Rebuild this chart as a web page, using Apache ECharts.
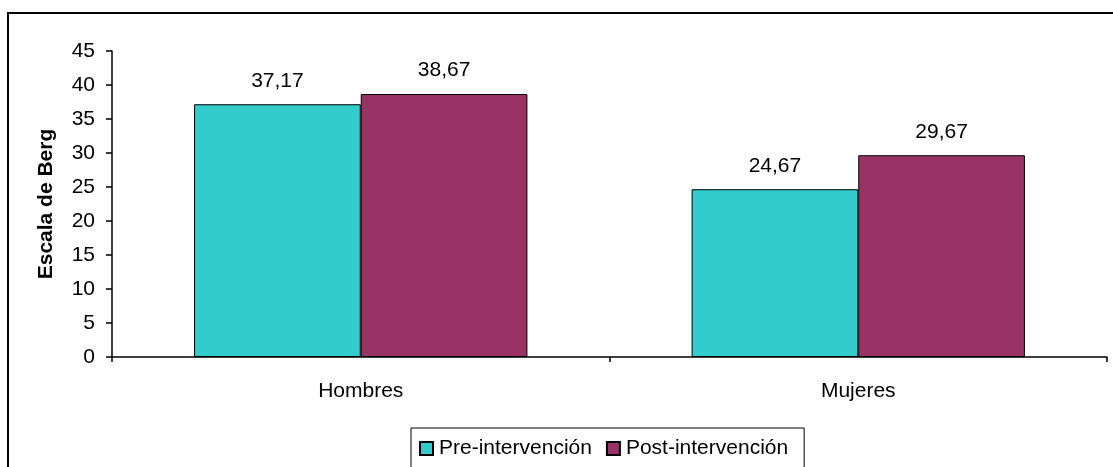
<!DOCTYPE html>
<html>
<head>
<meta charset="utf-8">
<script src="https://cdn.jsdelivr.net/npm/echarts@6/dist/echarts.min.js"></script>
<style>
  html, body { margin: 0; padding: 0; background: #fff; }
  #chart { width: 1113px; height: 467px; }
</style>
</head>
<body>
<div id="chart"></div>
<script>
// Puntuaciones medias en la Escala de Berg por sexo
const categories = ['Hombres', 'Mujeres'];
const preIntervencion = [37.17, 24.67];
const postIntervencion = [38.67, 29.67];
const seriesNames = ['Pre-intervención', 'Post-intervención'];
const yTicks = { min: 0, max: 45, interval: 5 };

const FONT = '"Liberation Sans", Arial, sans-serif';
const fmtComa = p => p.value.toFixed(2).replace('.', ',');

const chart = echarts.init(document.getElementById('chart'), null, { renderer: 'canvas' });

const labelCfg = {
  show: true,
  position: 'top',
  distance: 13,
  color: '#000',
  fontFamily: FONT,
  fontSize: 21,
  formatter: fmtComa
};

chart.setOption({
  animation: false,
  backgroundColor: '#fff',
  graphic: [{
    type: 'rect',
    shape: { x: 8, y: 13, width: 1130, height: 480 },
    style: { fill: 'none', stroke: '#000', lineWidth: 2 },
    silent: true,
    z: -1
  }],
  grid: { left: 112, right: 6, top: 51, bottom: 110, containLabel: false },
  legend: {
    data: seriesNames,
    left: 411,
    top: 428,
    padding: [10, 16, 10, 8],
    itemGap: 14,
    itemWidth: 13,
    itemHeight: 13,
    icon: 'rect',
    borderColor: '#000',
    borderWidth: 1,
    borderRadius: 0,
    textStyle: { color: '#000', fontFamily: FONT, fontSize: 21, padding: [0, 0, 0, 1] }
  },
  xAxis: {
    type: 'category',
    data: categories,
    axisLine: { lineStyle: { color: '#000', width: 1.5 } },
    axisTick: { show: true, length: 5, lineStyle: { color: '#000', width: 1.5 } },
    axisLabel: { color: '#000', fontFamily: FONT, fontSize: 21, margin: 24 },
    splitLine: { show: false }
  },
  yAxis: {
    type: 'value',
    min: yTicks.min,
    max: yTicks.max,
    interval: yTicks.interval,
    name: 'Escala de Berg',
    nameLocation: 'middle',
    nameGap: 55,
    nameTextStyle: { color: '#000', fontFamily: FONT, fontSize: 21, fontWeight: 'bold' },
    axisLine: { show: true, lineStyle: { color: '#000', width: 1.5 } },
    axisTick: { show: true, length: 6, lineStyle: { color: '#000', width: 1.5 } },
    axisLabel: { color: '#000', fontFamily: FONT, fontSize: 21, margin: 17 },
    splitLine: { show: false }
  },
  series: [
    {
      name: seriesNames[0],
      type: 'bar',
      data: preIntervencion,
      barGap: '0%',
      barCategoryGap: '33%',
      itemStyle: { color: '#33CCCC', borderColor: '#000', borderWidth: 1 },
      label: labelCfg
    },
    {
      name: seriesNames[1],
      type: 'bar',
      data: postIntervencion,
      barGap: '0%',
      barCategoryGap: '33%',
      itemStyle: { color: '#993366', borderColor: '#000', borderWidth: 1 },
      label: labelCfg
    }
  ]
});
</script>
</body>
</html>
